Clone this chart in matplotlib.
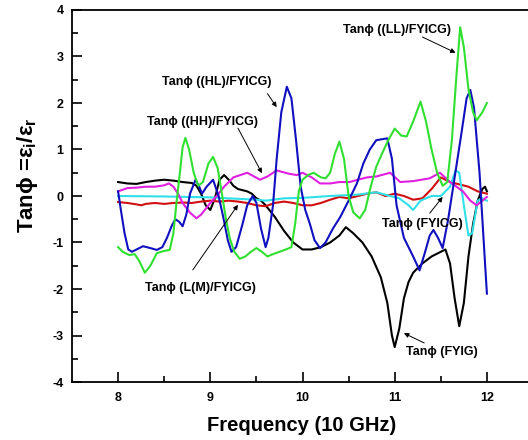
import matplotlib
matplotlib.use('Agg')
import matplotlib.pyplot as plt

plt.rcParams['font.family'] = ['Liberation Sans', 'DejaVu Sans']
plt.rcParams['font.weight'] = 'bold'
plt.rcParams['axes.unicode_minus'] = False
plt.rcParams['mathtext.fontset'] = 'custom'
plt.rcParams['mathtext.rm'] = 'Liberation Sans:bold'
plt.rcParams['mathtext.it'] = 'Liberation Sans:bold'
plt.rcParams['mathtext.bf'] = 'Liberation Sans:bold'

# Tanphi (FYIG) - black
f_fyig = [8.0, 8.1, 8.2, 8.3, 8.4, 8.5, 8.6, 8.7, 8.8, 8.85, 8.9, 8.95, 9.0, 9.05, 9.1, 9.15, 9.2, 9.25,
          9.3, 9.4, 9.45, 9.5, 9.55, 9.6, 9.7, 9.8, 9.9, 10.0, 10.1, 10.2, 10.3, 10.4, 10.47, 10.55, 10.65,
          10.75, 10.85, 10.92, 10.97, 11.0, 11.05, 11.1, 11.15, 11.2, 11.3, 11.4, 11.5, 11.55, 11.6, 11.65,
          11.7, 11.75, 11.8, 11.85, 11.9, 11.95, 11.98, 12.0]
v_fyig = [0.30, 0.27, 0.26, 0.30, 0.33, 0.35, 0.33, 0.30, 0.28, 0.22, 0.05, -0.2, -0.3, -0.05, 0.35, 0.45, 0.35, 0.22,
          0.15, 0.10, 0.05, -0.05, -0.1, -0.2, -0.45, -0.75, -1.0, -1.15, -1.15, -1.1, -1.0, -0.85, -0.67, -0.8, -1.0,
          -1.3, -1.75, -2.3, -3.0, -3.25, -2.85, -2.2, -1.85, -1.65, -1.45, -1.3, -1.2, -1.15, -1.45, -2.2,
          -2.8, -2.3, -1.3, -0.6, -0.1, 0.15, 0.2, 0.1]

# Tanphi (L(M)/FYICG) - red
f_lm = [8.0, 8.1, 8.2, 8.25, 8.3, 8.4, 8.5, 8.6, 8.7, 8.8, 8.9, 9.0, 9.1, 9.2, 9.3, 9.4, 9.5, 9.6, 9.7, 9.8,
        9.9, 10.0, 10.1, 10.2, 10.3, 10.4, 10.5, 10.6, 10.7, 10.8, 10.9, 11.0, 11.1, 11.2, 11.3, 11.4, 11.5,
        11.6, 11.7, 11.8, 11.9, 12.0]
v_lm = [-0.13, -0.15, -0.18, -0.2, -0.17, -0.15, -0.17, -0.15, -0.14, -0.15, -0.12, -0.1, -0.12, -0.1, -0.12,
        -0.15, -0.2, -0.22, -0.15, -0.12, -0.15, -0.2, -0.2, -0.15, -0.08, -0.02, -0.05, 0.0, 0.05, 0.08, 0.0,
        0.05, 0.0, -0.08, -0.05, 0.15, 0.4, 0.3, 0.25, 0.2, 0.1, 0.05]

# Tanphi (FYICG) - cyan
f_fyicg = [8.0, 8.5, 9.0, 9.5, 9.6, 9.8, 10.0, 10.3, 10.6, 10.8, 10.95, 11.05, 11.15, 11.2, 11.28, 11.4, 11.5,
           11.6, 11.66, 11.7, 11.75, 11.8, 11.84, 11.9, 11.95, 12.0]
v_fyicg = [0.0, -0.01, -0.03, -0.08, -0.1, -0.05, -0.04, 0.0, 0.03, 0.08, 0.0, -0.05, -0.2, -0.3, -0.1, 0.0, 0.0,
           0.2, 0.55, 0.5, -0.2, -0.85, -0.8, -0.1, -0.05, -0.1]

# Tanphi ((HH)/FYICG) - magenta
f_hh = [8.0, 8.1, 8.2, 8.3, 8.4, 8.5, 8.55, 8.6, 8.65, 8.7, 8.78, 8.85, 8.9, 9.0, 9.07, 9.15, 9.25, 9.4, 9.54,
        9.62, 9.72, 9.85, 9.94, 10.0, 10.1, 10.19, 10.3, 10.4, 10.51, 10.6, 10.7, 10.8, 10.95, 11.06, 11.2,
        11.38, 11.49, 11.6, 11.74, 11.82, 11.89, 11.95, 12.0]
v_hh = [0.1, 0.17, 0.18, 0.2, 0.2, 0.23, 0.27, 0.2, 0.05, -0.15, -0.36, -0.48, -0.4, -0.15, 0.0, 0.2, 0.4, 0.5, 0.35,
        0.42, 0.55, 0.48, 0.45, 0.5, 0.4, 0.27, 0.27, 0.3, 0.3, 0.35, 0.4, 0.42, 0.5, 0.3, 0.32,
        0.38, 0.5, 0.3, 0.1, -0.1, -0.2, -0.1, -0.02]

# Tanphi ((HL)/FYICG) - blue
f_hl = [8.0, 8.03, 8.07, 8.11, 8.15, 8.2, 8.27, 8.35, 8.42, 8.48, 8.53, 8.58, 8.62, 8.66, 8.7, 8.74, 8.78, 8.84,
        8.88, 8.91, 8.96, 9.03, 9.09, 9.14, 9.19, 9.23, 9.28, 9.35, 9.4, 9.46, 9.5, 9.55, 9.6, 9.63, 9.68, 9.72,
        9.77, 9.83, 9.88, 9.93, 9.98, 10.03, 10.08, 10.13, 10.19, 10.25, 10.33, 10.41, 10.5, 10.59, 10.66,
        10.73, 10.8, 10.92, 10.97, 11.02, 11.1, 11.2, 11.27, 11.33, 11.38, 11.42, 11.47, 11.52, 11.58, 11.65,
        11.72, 11.78, 11.82, 11.86, 11.92, 11.96, 12.0]
v_hl = [0.1, -0.3, -0.8, -1.15, -1.2, -1.15, -1.08, -1.12, -1.16, -1.1, -0.9, -0.65, -0.5, -0.55, -0.65, -0.4,
        0.05, 0.35, 0.2, 0.05, 0.2, 0.35, 0.0, -0.45, -0.95, -1.2, -1.1, -0.6, -0.2, 0.0, -0.15, -0.7, -1.1,
        -0.9, -0.2, 0.8, 1.8, 2.35, 2.1, 1.2, 0.2, -0.3, -0.6, -0.95, -1.12, -1.0, -0.7, -0.45, -0.1, 0.27, 0.7,
        1.0, 1.2, 1.24, 0.8, -0.2, -0.9, -1.3, -1.6, -1.2, -0.85, -0.73, -0.9, -1.12, -0.5, 0.4,
        1.3, 2.1, 2.28, 1.9, 0.5, -0.8, -2.1]

# Tanphi ((LL)/FYICG) - green
f_ll = [8.0, 8.05, 8.12, 8.18, 8.23, 8.29, 8.35, 8.42, 8.5, 8.56, 8.6, 8.63, 8.67, 8.7, 8.73, 8.77, 8.82, 8.87,
        8.92, 8.98, 9.03, 9.08, 9.13, 9.17, 9.21, 9.26, 9.32, 9.38, 9.44, 9.5, 9.56, 9.62, 9.68, 9.75, 9.82,
        9.88, 9.92, 9.96, 10.0, 10.06, 10.12, 10.2, 10.25, 10.3, 10.35, 10.4, 10.45, 10.5, 10.55, 10.62,
        10.68, 10.74, 10.8, 10.86, 10.93, 11.0, 11.07, 11.13, 11.2, 11.28, 11.34, 11.4, 11.46, 11.52, 11.57,
        11.62, 11.67, 11.71, 11.75, 11.8, 11.85, 11.89, 11.95, 12.0]
v_ll = [-1.1, -1.2, -1.27, -1.25, -1.4, -1.65, -1.5, -1.23, -1.18, -1.16, -0.8, -0.2, 0.5, 1.05, 1.25, 1.0, 0.5,
        0.22, 0.3, 0.7, 0.84, 0.6, 0.0, -0.5, -0.9, -1.2, -1.35, -1.3, -1.2, -1.12, -1.2, -1.3, -1.25, -1.2,
        -1.15, -1.1, -0.6, 0.1, 0.35, 0.45, 0.5, 0.4, 0.38, 0.5, 0.9, 1.17, 0.8, 0.0, -0.35, -0.48,
        -0.3, 0.2, 0.63, 0.9, 1.2, 1.45, 1.3, 1.28, 1.6, 2.03, 1.6, 1.0, 0.5, 0.22, 0.3,
        1.2, 2.6, 3.63, 3.2, 2.3, 1.8, 1.63, 1.8, 2.0]

fig = plt.figure(figsize=(5.28, 4.40), dpi=100)
ax = fig.add_axes([72 / 528, 58 / 440, 461 / 528, 372 / 440])

ax.plot(f_fyig, v_fyig, color='black', lw=1.5)
ax.plot(f_lm, v_lm, color='#d01010', lw=1.5)
ax.plot(f_fyicg, v_fyicg, color='#30e0e8', lw=1.5)
ax.plot(f_hh, v_hh, color='#e020e0', lw=1.5)
ax.plot(f_hl, v_hl, color='#1010c0', lw=1.5)
ax.plot(f_ll, v_ll, color='#30e030', lw=1.5)

ax.set_xlim(7.5, 12.5)
ax.set_ylim(-4, 4)
ax.set_xticks([8, 9, 10, 11, 12])
ax.set_xticks([8.5, 9.5, 10.5, 11.5], minor=True)
ax.set_yticks([-4, -3, -2, -1, 0, 1, 2, 3, 4])
ax.set_yticks([-3.5, -2.5, -1.5, -0.5, 0.5, 1.5, 2.5, 3.5], minor=True)
ax.tick_params(which='major', direction='in', length=7, width=1.2, labelsize=9)
ax.tick_params(which='minor', direction='in', length=4, width=1.2)
ax.tick_params(axis='x', pad=7)
ax.tick_params(axis='y', pad=6)
for lab in ax.get_xticklabels() + ax.get_yticklabels():
    lab.set_fontweight('bold')
for s in ['left', 'bottom', 'top']:
    ax.spines[s].set_linewidth(1.3)
ax.spines['right'].set_visible(False)

fig.text(302 / 528, 1 - 425 / 440, 'Frequency (10 GHz)', fontsize=14.5, fontweight='bold',
         ha='center', va='center')
fig.text(27 / 528, 1 - 175 / 440, 'Tanϕ =$ε_i/ε_r$', rotation=90, fontsize=16, fontweight='bold',
         ha='center', va='center')

arr = dict(arrowstyle='-|>', lw=0.7, color='black', mutation_scale=7, shrinkA=0, shrinkB=0)
fs = 9
ax.text(11.02, 3.57, 'Tanϕ ((LL)/FYICG)', fontsize=fs, fontweight='bold', ha='center', va='center')
ax.annotate('', xy=(11.66, 3.08), xytext=(11.3, 3.42), arrowprops=arr)
ax.text(9.07, 2.45, 'Tanϕ ((HL)/FYICG)', fontsize=fs, fontweight='bold', ha='center', va='center')
ax.annotate('', xy=(9.72, 1.91), xytext=(9.62, 2.2), arrowprops=arr)
ax.text(8.92, 1.59, 'Tanϕ ((HH)/FYICG)', fontsize=fs, fontweight='bold', ha='center', va='center')
ax.annotate('', xy=(9.56, 0.49), xytext=(9.3, 1.46), arrowprops=arr)
ax.text(8.89, -1.98, 'Tanϕ (L(M)/FYICG)', fontsize=fs, fontweight='bold', ha='center', va='center')
ax.annotate('', xy=(9.3, -0.19), xytext=(8.81, -1.59), arrowprops=arr)
ax.text(11.3, -0.6, 'Tanϕ (FYICG)', fontsize=fs, fontweight='bold', ha='center', va='center')
ax.annotate('', xy=(11.52, -0.02), xytext=(11.38, -0.37), arrowprops=arr)
ax.text(11.51, -3.35, 'Tanϕ (FYIG)', fontsize=fs, fontweight='bold', ha='center', va='center')
ax.annotate('', xy=(11.1, -2.95), xytext=(11.32, -3.16), arrowprops=arr)

fig.savefig('out.png', dpi=100)
